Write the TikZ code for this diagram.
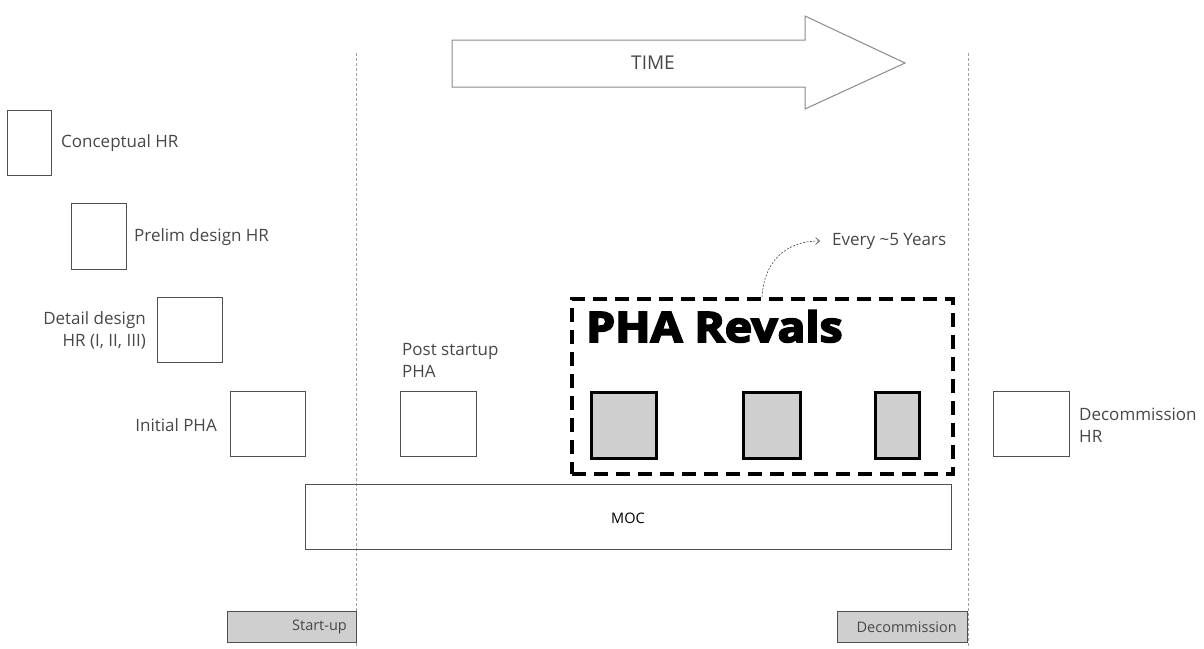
\documentclass[tikz,border=0pt]{standalone}
\usepackage{fontspec}
\setmainfont{Open Sans}
\usetikzlibrary{arrows.meta}
\definecolor{txt}{HTML}{474747}
\definecolor{bx}{HTML}{505050}
\definecolor{fillg}{HTML}{D0CFD0}
\definecolor{arr}{HTML}{8A8A8A}
\definecolor{vl}{HTML}{A0A0A0}
\begin{document}
\begin{tikzpicture}[x=1pt,y=-1pt,
  lbl/.style={font=\fontsize{17}{22}\selectfont, text=txt, inner sep=0pt},
  small/.style={font=\fontsize{14.5}{17}\selectfont, inner sep=0pt},
  hbox/.style={draw=bx, line width=0.9pt, inner sep=0pt, anchor=north west},
  rbox/.style={draw=black, fill=fillg, line width=3pt, inner sep=0pt, anchor=north west},
  phase/.style={draw=bx, fill=fillg, line width=1pt, inner sep=0pt, anchor=north west},
  vline/.style={draw=vl, line width=0.8pt, dash pattern=on 3pt off 2pt}]
\useasboundingbox (0,0) rectangle (1204,648);

% vertical dashed lines
\coordinate (v1t) at (356,53); \coordinate (v1b) at (356,648);
\coordinate (v2t) at (968,53); \coordinate (v2b) at (968,648);
\draw[vline] (v1t) -- (v1b);
\draw[vline] (v2t) -- (v2b);

% TIME arrow
\draw[draw=arr, line width=1pt, fill=white] (452,40) -- (805,40) -- (805,16) -- (905,63) -- (805,109) -- (805,87) -- (452,87) -- cycle;
\node[lbl, font=\fontsize{19}{22}\selectfont] (time) at (653,63) {TIME};

% left cascade
\node[hbox, minimum width=44, minimum height=65] (c1) at (7,110) {};
\node[lbl, anchor=west] (c1l) at (61,143) {Conceptual HR};
\node[hbox, minimum width=55, minimum height=66] (c2) at (71,203) {};
\node[lbl, anchor=west] (c2l) at (134,237) {Prelim design HR};
\node[hbox, minimum width=65, minimum height=65] (c3) at (157,297) {};
\node[lbl, anchor=east, align=right] (c3l) at (146,330) {Detail design\\HR (I, II, III)};
\node[hbox, minimum width=75, minimum height=65] (c4) at (230,391) {};
\node[lbl, anchor=east] (c4l) at (217,425) {Initial PHA};
\node[hbox, minimum width=76, minimum height=65] (c5) at (400,391) {};
\node[lbl, anchor=south west, align=left] (c5l) at (402,378) {Post startup\\PHA};

% PHA revals
\node[draw=black, line width=3.5pt, dash pattern=on 14pt off 8pt, minimum width=381, minimum height=175, inner sep=0pt, anchor=north west] (pha) at (570,297) {};
\node[inner sep=0pt, anchor=base west, font=\fontsize{42}{42}\bfseries\addfontfeatures{FakeBold=4}] (phat) at (586,342) {\scalebox{1.1}[1]{PHA Revals}};
\node[rbox, minimum width=65, minimum height=66] (r1) at (590,391) {};
\node[rbox, minimum width=57, minimum height=66] (r2) at (742,391) {};
\node[rbox, minimum width=44, minimum height=66] (r3) at (874,391) {};

% every 5 years
\node[lbl, anchor=west] (ev) at (832,241) {Every \textasciitilde5 Years};
\coordinate (cs) at (762,297);
\draw[draw=txt, line width=0.6pt, dash pattern=on 2pt off 1.5pt, -{Straight Barb[length=4pt,width=7pt]}] (cs) .. controls (764,262) and (785,241) .. ([xshift=-12pt]ev.west);

% decommission HR
\node[hbox, minimum width=76, minimum height=65] (c6) at (993,391) {};
\node[lbl, anchor=west, align=left] (c6l) at (1079,425) {Decommission\\HR};

% MOC
\node[hbox, minimum width=646, minimum height=65] (moc) at (305,484) {};
\node[small, anchor=center] (mocl) at (628,518) {MOC};

% phases
\node[phase, minimum width=129, minimum height=31] (su) at (227,611) {};
\node[small, text=txt, anchor=east] (sul) at (347,627) {Start-up};
\node[phase, minimum width=130, minimum height=31] (dc) at (837,611) {};
\node[small, text=txt, anchor=east] (dcl) at (957,627) {Decommission};
\end{tikzpicture}
\end{document}
